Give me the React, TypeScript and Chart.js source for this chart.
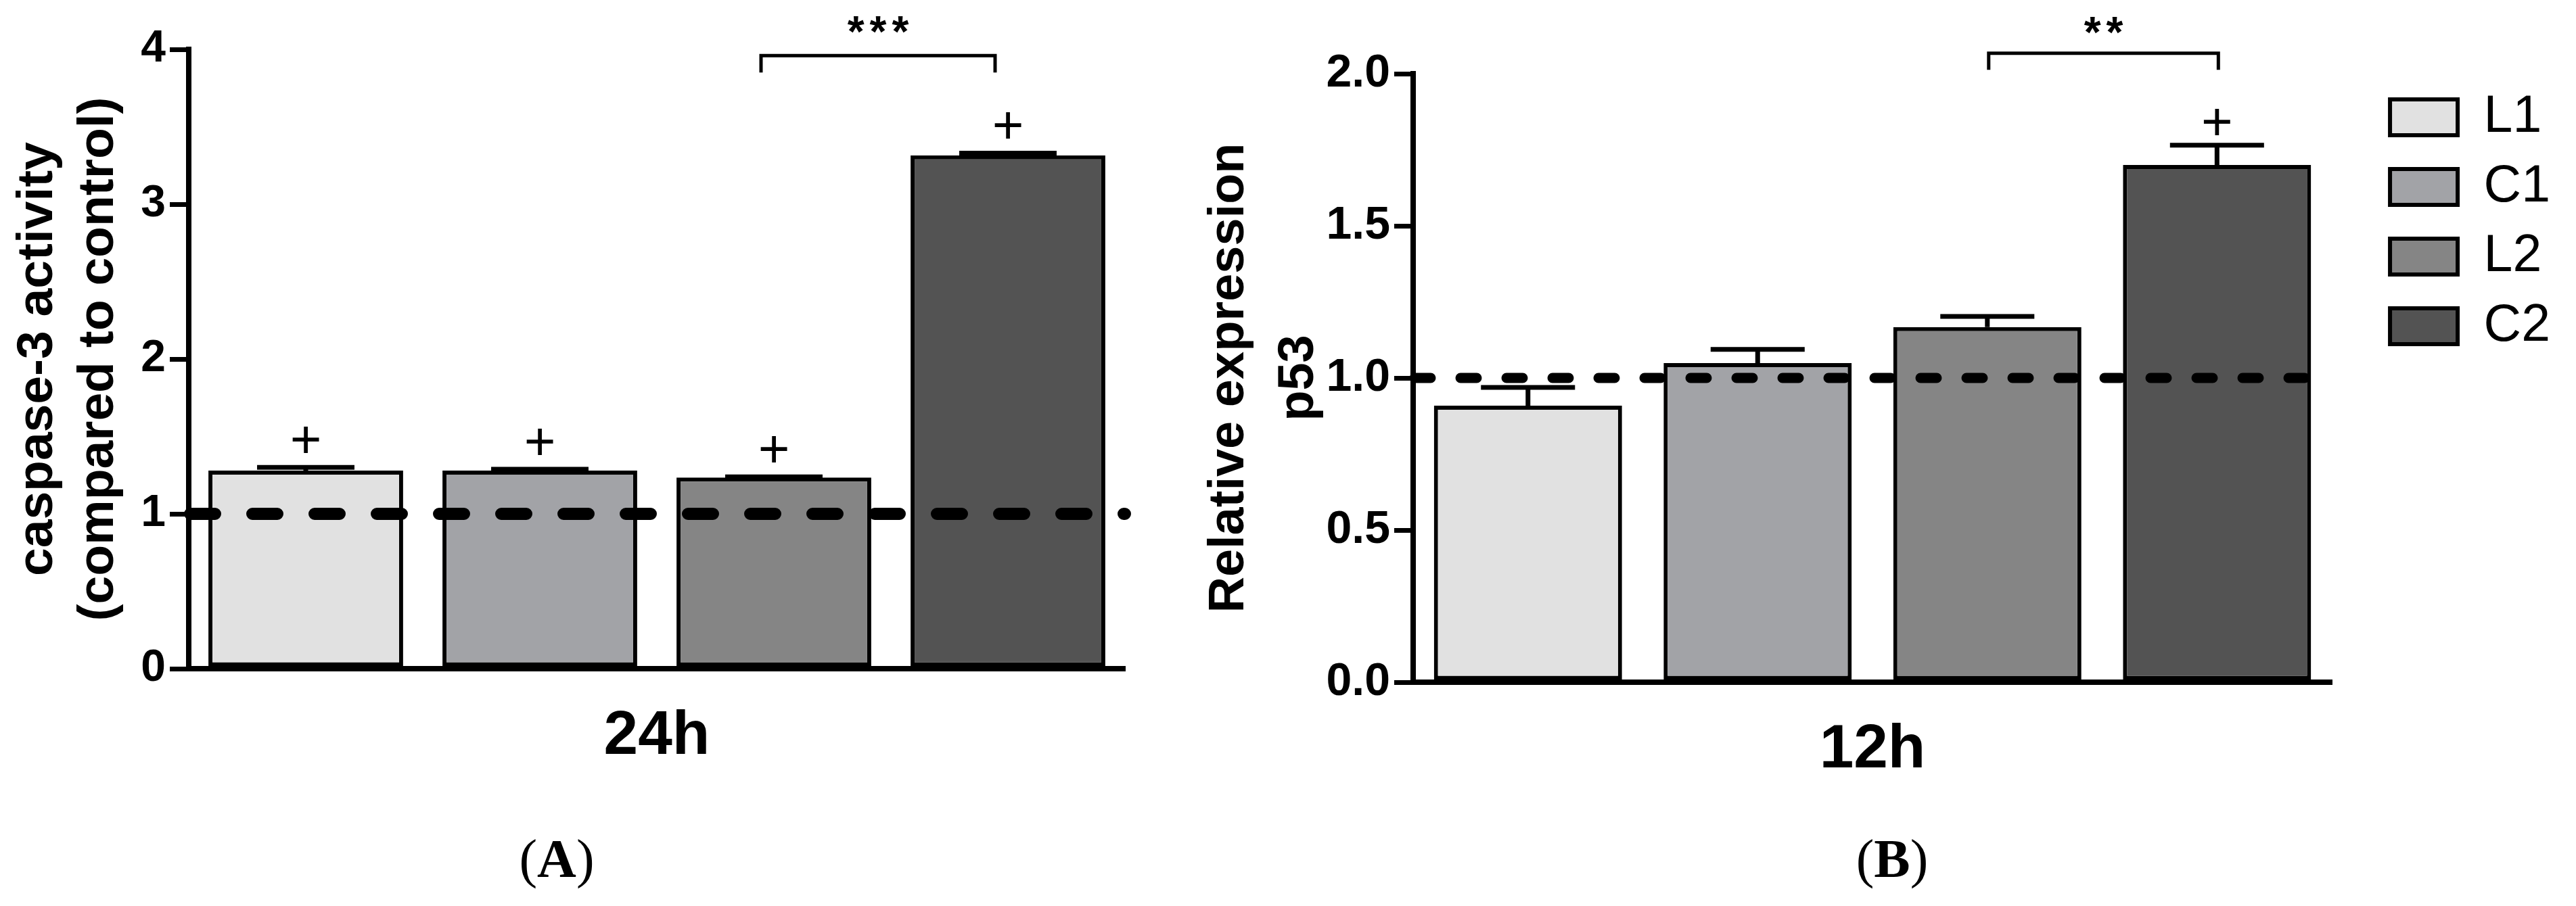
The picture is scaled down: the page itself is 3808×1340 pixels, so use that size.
import React, { useEffect, useRef } from 'react';
import { Chart, registerables } from 'chart.js';

Chart.register(...registerables);

// ---------- data ----------
const GROUPS = ['L1', 'C1', 'L2', 'C2'];
const COLORS = ['#e1e1e1', '#a2a3a7', '#858585', '#535353'];
const REFERENCE_LEVEL = 1;

const A_CATEGORY = ['24h'];
const A_MEANS = [1.28, 1.28, 1.235, 3.315];
const A_ERRORS = [0.02, 0.008, 0.004, 0.015];
const A_PLUS = [true, true, true, true];
const A_Y_TITLE = ['caspase-3 activity', '(compared to control)'];
const A_Y_MIN = 0;
const A_Y_MAX = 4;
const A_Y_STEP = 1;
const A_SIG_FROM = 2;
const A_SIG_TO = 3;
const A_SIG_LABEL = '***';
const A_SIG_LEVEL = 3.96;
const A_SIG_DROP = 3.85;
const A_SIG_TEXT_LEVEL = 4.14;

const B_CATEGORY = ['12h'];
const B_MEANS = [0.909, 1.049, 1.167, 1.7];
const B_ERRORS = [0.06, 0.045, 0.035, 0.065];
const B_PLUS = [false, false, false, true];
const B_Y_TITLE = ['Relative expression', 'p53'];
const B_Y_MIN = 0;
const B_Y_MAX = 2;
const B_Y_STEP = 0.5;
const B_SIG_FROM = 2;
const B_SIG_TO = 3;
const B_SIG_LABEL = '**';
const B_SIG_LEVEL = 2.067;
const B_SIG_DROP = 2.013;
const B_SIG_TEXT_LEVEL = 2.147;

// ---------- styling ----------
const FONT = "'Liberation Sans', Arial, Helvetica, sans-serif";
const NARROW = "'Liberation Sans Narrow', 'Arial Narrow', 'Liberation Sans', sans-serif";

function overlayPlugin(cfg: any) {
  return {
    id: 'overlay',
    afterDatasetsDraw(chart: any) {
      const { ctx, chartArea } = chart;
      const yScale = chart.scales.y;
      ctx.save();
      // reference dashed line
      const yRef = yScale.getPixelForValue(REFERENCE_LEVEL);
      ctx.strokeStyle = '#000';
      ctx.lineWidth = cfg.dashWidth;
      ctx.lineCap = 'round';
      ctx.setLineDash(cfg.dash);
      ctx.beginPath();
      ctx.moveTo(chartArea.left + 2, yRef);
      ctx.lineTo(chartArea.right, yRef);
      ctx.stroke();
      ctx.setLineDash([]);

      // error bars and plus marks
      cfg.means.forEach((m: number, i: number) => {
        const bar = chart.getDatasetMeta(i).data[0];
        if (!bar) return;
        const x = bar.x;
        const w = bar.width;
        const yTop = yScale.getPixelForValue(m);
        const yErr = yScale.getPixelForValue(m + cfg.errors[i]);
        ctx.lineCap = 'butt';
        ctx.lineWidth = cfg.errWidth;
        ctx.beginPath();
        ctx.moveTo(x, yTop);
        ctx.lineTo(x, yErr);
        ctx.moveTo(x - w * 0.25, yErr);
        ctx.lineTo(x + w * 0.25, yErr);
        ctx.stroke();
        if (cfg.plus[i]) {
          ctx.fillStyle = '#000';
          ctx.font = `80px ${FONT}`;
          ctx.textAlign = 'center';
          ctx.textBaseline = 'middle';
          ctx.fillText('+', x, yErr - cfg.plusOffset);
        }
      });

      // significance bracket
      const b1 = chart.getDatasetMeta(cfg.sigFrom).data[0];
      const b2 = chart.getDatasetMeta(cfg.sigTo).data[0];
      if (b1 && b2) {
        const yb = yScale.getPixelForValue(cfg.sigLevel);
        const yd = yScale.getPixelForValue(cfg.sigDrop);
        const x1 = b1.x + cfg.sigShift;
        const x2 = b2.x + cfg.sigShift;
        ctx.lineWidth = 5;
        ctx.lineCap = 'butt';
        ctx.lineJoin = 'miter';
        ctx.beginPath();
        ctx.moveTo(x1, yd);
        ctx.lineTo(x1, yb);
        ctx.lineTo(x2, yb);
        ctx.lineTo(x2, yd);
        ctx.stroke();
        ctx.fillStyle = '#000';
        ctx.font = `bold 64px ${FONT}`;
        (ctx as any).letterSpacing = '8px';
        ctx.textAlign = 'center';
        ctx.textBaseline = 'middle';
        ctx.fillText(cfg.sigLabel, (x1 + x2) / 2 + 4, yScale.getPixelForValue(cfg.sigTextLevel) + 10);
        (ctx as any).letterSpacing = '0px';
      }
      ctx.restore();
    },
  };
}

function makeDatasets(means: number[], barPct: number) {
  return GROUPS.map((g, i) => ({
    label: g,
    data: [means[i]],
    backgroundColor: COLORS[i],
    borderColor: '#000',
    borderWidth: 6,
    borderSkipped: false as any,
    categoryPercentage: 1,
    barPercentage: barPct,
  }));
}

export default function App() {
  const refA = useRef<HTMLCanvasElement | null>(null);
  const refB = useRef<HTMLCanvasElement | null>(null);

  useEffect(() => {
    const chartA = new Chart(refA.current as HTMLCanvasElement, {
      type: 'bar',
      data: { labels: A_CATEGORY, datasets: makeDatasets(A_MEANS, 0.832) as any },
      options: {
        animation: false,
        responsive: false,
        devicePixelRatio: 1,
        layout: { padding: { left: 0, top: 73, right: 87, bottom: 0 } },
        plugins: { legend: { display: false }, tooltip: { enabled: false } },
        scales: {
          x: {
            grid: { display: false, drawTicks: false },
            border: { display: true, color: '#000', width: 8 },
            ticks: { color: '#000', padding: 46, font: { family: FONT, size: 91, weight: 'bold' } },
            afterFit: (s: any) => { s.height = 351; },
          },
          y: {
            min: A_Y_MIN,
            max: A_Y_MAX,
            ticks: { stepSize: A_Y_STEP, color: '#000', padding: 6, font: { family: FONT, size: 66, weight: 'bold' } },
            grid: { display: true, drawOnChartArea: false, drawTicks: true, tickLength: 28, lineWidth: 7, color: '#000' },
            border: { display: true, color: '#000', width: 8 },
            title: {
              display: true,
              text: A_Y_TITLE,
              color: '#000',
              font: { family: FONT, size: 75, weight: 'bold', lineHeight: 1.2 },
              padding: { top: 11, bottom: 0 },
            },
            afterFit: (s: any) => { s.width = 279; },
          },
        },
      } as any,
      plugins: [overlayPlugin({
        means: A_MEANS, errors: A_ERRORS, plus: A_PLUS, dash: [37, 55], dashWidth: 18, errWidth: 7,
        plusOffset: 36, sigFrom: A_SIG_FROM, sigTo: A_SIG_TO, sigLabel: A_SIG_LABEL,
        sigLevel: A_SIG_LEVEL, sigDrop: A_SIG_DROP, sigTextLevel: A_SIG_TEXT_LEVEL, sigShift: -19,
      })],
    });

    const chartB = new Chart(refB.current as HTMLCanvasElement, {
      type: 'bar',
      data: { labels: B_CATEGORY, datasets: makeDatasets(B_MEANS, 0.819) as any },
      options: {
        animation: false,
        responsive: false,
        devicePixelRatio: 1,
        layout: { padding: { left: 0, top: 109, right: 28, bottom: 0 } },
        plugins: {
          tooltip: { enabled: false },
          legend: {
            display: true,
            position: 'right',
            align: 'start',
            labels: {
              boxWidth: 100,
              boxHeight: 53,
              padding: 26,
              color: '#000',
              font: { family: NARROW, size: 77 },
            },
          },
        },
        scales: {
          x: {
            grid: { display: false, drawTicks: false },
            border: { display: true, color: '#000', width: 8 },
            ticks: { color: '#000', padding: 46, font: { family: FONT, size: 91, weight: 'bold' } },
            afterFit: (s: any) => { s.height = 331; },
          },
          y: {
            min: B_Y_MIN,
            max: B_Y_MAX,
            ticks: {
              stepSize: B_Y_STEP,
              color: '#000',
              padding: 6,
              font: { family: FONT, size: 68, weight: 'bold' },
              callback: (v: any) => Number(v).toFixed(1),
            },
            grid: { display: true, drawOnChartArea: false, drawTicks: true, tickLength: 28, lineWidth: 7, color: '#000' },
            border: { display: true, color: '#000', width: 8 },
            title: {
              display: true,
              text: B_Y_TITLE,
              color: '#000',
              font: { family: FONT, size: 74, weight: 'bold', lineHeight: 1.38 },
              padding: { top: 17, bottom: 0 },
            },
            afterFit: (s: any) => { s.width = 339; },
          },
          y2: {
            position: 'right',
            display: true,
            grid: { display: false, drawTicks: false },
            ticks: { display: false },
            border: { display: false },
            afterFit: (s: any) => { s.width = 60; },
          },
        },
      } as any,
      plugins: [overlayPlugin({
        means: B_MEANS, errors: B_ERRORS, plus: B_PLUS, dash: [24, 44], dashWidth: 15, errWidth: 7,
        plusOffset: 30, sigFrom: B_SIG_FROM, sigTo: B_SIG_TO, sigLabel: B_SIG_LABEL,
        sigLevel: B_SIG_LEVEL, sigDrop: B_SIG_DROP, sigTextLevel: B_SIG_TEXT_LEVEL, sigShift: 2,
      })],
    });

    return () => {
      chartA.destroy();
      chartB.destroy();
    };
  }, []);

  const panelLabel: React.CSSProperties = {
    position: 'absolute',
    top: 1220,
    width: 300,
    height: 100,
    lineHeight: '100px',
    textAlign: 'center',
    fontFamily: "'Liberation Serif', 'Times New Roman', serif",
    fontSize: 80,
    color: '#000',
  };

  return (
    <div style={{ position: 'absolute', left: 0, top: 0, width: 3808, height: 1340, background: '#fff', overflow: 'hidden' }}>
      <canvas ref={refA} width={1750} height={1340} style={{ position: 'absolute', left: 0, top: 0, width: 1750, height: 1340 }} />
      <canvas ref={refB} width={2058} height={1340} style={{ position: 'absolute', left: 1750, top: 0, width: 2058, height: 1340 }} />
      <div style={{ ...panelLabel, left: 823 - 150 }}>(<b>A</b>)</div>
      <div style={{ ...panelLabel, left: 2797 - 150 }}>(<b>B</b>)</div>
    </div>
  );
}
